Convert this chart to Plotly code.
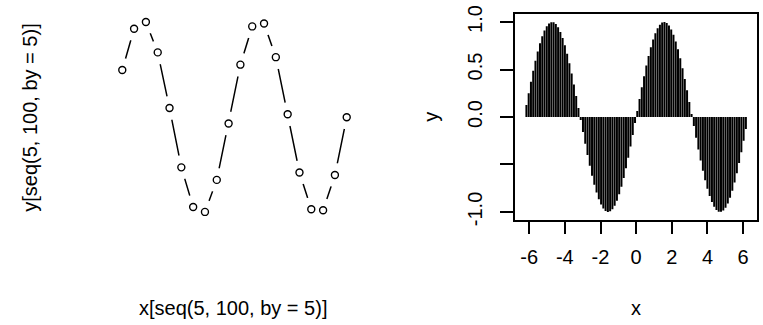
import plotly.graph_objects as go

# x = seq(-2*pi, 2*pi, length = 100), y = sin(x)  (values read / tabulated)
x = [-6.283, -6.156, -6.029, -5.902, -5.775, -5.649, -5.522, -5.395, -5.268, -5.141,
     -5.014, -4.887, -4.760, -4.633, -4.506, -4.379, -4.252, -4.125, -3.998, -3.871,
     -3.745, -3.618, -3.491, -3.364, -3.237, -3.110, -2.983, -2.856, -2.729, -2.602,
     -2.475, -2.348, -2.221, -2.094, -1.967, -1.841, -1.714, -1.587, -1.460, -1.333,
     -1.206, -1.079, -0.952, -0.825, -0.698, -0.571, -0.444, -0.317, -0.190, -0.063,
     0.063, 0.190, 0.317, 0.444, 0.571, 0.698, 0.825, 0.952, 1.079, 1.206,
     1.333, 1.460, 1.587, 1.714, 1.841, 1.967, 2.094, 2.221, 2.348, 2.475,
     2.602, 2.729, 2.856, 2.983, 3.110, 3.237, 3.364, 3.491, 3.618, 3.745,
     3.871, 3.998, 4.125, 4.252, 4.379, 4.506, 4.633, 4.760, 4.887, 5.014,
     5.141, 5.268, 5.395, 5.522, 5.649, 5.775, 5.902, 6.029, 6.156, 6.283]
y = [0.000, 0.127, 0.251, 0.372, 0.486, 0.593, 0.690, 0.776, 0.850, 0.910,
     0.955, 0.985, 0.999, 0.997, 0.979, 0.945, 0.896, 0.833, 0.756, 0.667,
     0.567, 0.458, 0.342, 0.220, 0.095, -0.032, -0.158, -0.282, -0.401, -0.514,
     -0.618, -0.713, -0.796, -0.866, -0.922, -0.964, -0.990, -1.000, -0.994, -0.972,
     -0.934, -0.882, -0.815, -0.735, -0.643, -0.541, -0.430, -0.312, -0.189, -0.063,
     0.063, 0.189, 0.312, 0.430, 0.541, 0.643, 0.735, 0.815, 0.882, 0.934,
     0.972, 0.994, 1.000, 0.990, 0.964, 0.922, 0.866, 0.796, 0.713, 0.618,
     0.514, 0.401, 0.282, 0.158, 0.032, -0.095, -0.220, -0.342, -0.458, -0.567,
     -0.667, -0.756, -0.833, -0.896, -0.945, -0.979, -0.997, -0.999, -0.985, -0.955,
     -0.910, -0.850, -0.776, -0.690, -0.593, -0.486, -0.372, -0.251, -0.127, 0.000]

sel = list(range(5, 101, 5))  # seq(5, 100, by = 5)

x_ticks = [-6, -4, -2, 0, 2, 4, 6]
x_ticktext = ["-6", "-4", "-2", "0", "2", "4", "6"]
y_ticks = [-1.0, -0.5, 0.0, 0.5, 1.0]
y_ticktext = ["-1.0", "", "0.0", "0.5", "1.0"]

left_xlabel = "x[seq(5, 100, by = 5)]"
left_ylabel = "y[seq(5, 100, by = 5)]"
right_xlabel = "x"
right_ylabel = "y"

xs = [x[i - 1] for i in sel]
ys = [y[i - 1] for i in sel]


def rrange(v):
    lo, hi = min(v), max(v)
    d = (hi - lo) * 0.04
    return [lo - d, hi + d]


FONT = "Liberation Sans, Arial, sans-serif"
FS = 20

fig = go.Figure()

# left panel: type = "b"
fig.add_trace(go.Scatter(x=xs, y=ys, mode="lines", line=dict(color="black", width=1.5),
                         xaxis="x", yaxis="y", hoverinfo="skip"))
fig.add_trace(go.Scatter(x=xs, y=ys, mode="markers",
                         marker=dict(symbol="circle", size=24, color="white", line=dict(width=0)),
                         xaxis="x", yaxis="y", hoverinfo="skip"))
fig.add_trace(go.Scatter(x=xs, y=ys, mode="markers",
                         marker=dict(symbol="circle-open", size=7, color="black", line=dict(width=1.4)),
                         xaxis="x", yaxis="y"))

# right panel: type = "h"
hx, hy = [], []
for xv, yv in zip(x, y):
    hx += [xv, xv, None]
    hy += [0, yv, None]
fig.add_trace(go.Scatter(x=hx, y=hy, mode="lines", line=dict(color="black", width=2.0),
                         xaxis="x2", yaxis="y2", hoverinfo="skip"))

W, H = 763, 325
ydom = [1 - 220.7 / H, 1 - 5.7 / H]

axis_common = dict(showgrid=False, zeroline=False, showline=True, linecolor="black",
                   linewidth=1.5, mirror=True, ticks="outside", ticklen=13, tickwidth=1.5,
                   tickcolor="black", ticklabeloverflow="allow",
                   tickfont=dict(family=FONT, size=FS, color="black"))

fig.update_layout(
    width=W, height=H,
    margin=dict(l=0, r=0, t=0, b=0),
    paper_bgcolor="white", plot_bgcolor="white",
    showlegend=False,
    xaxis=dict(domain=[113.3 / W, 355.7 / W], range=rrange(xs), visible=False, anchor="y"),
    yaxis=dict(domain=ydom, range=rrange(ys), visible=False, anchor="x"),
    xaxis2=dict(domain=[515.2 / W, 757.1 / W], range=rrange(x), anchor="y2",
                tickmode="array", tickvals=x_ticks, ticktext=x_ticktext,
                ticklabelstandoff=6, **axis_common),
    yaxis2=dict(domain=ydom, range=rrange(y), anchor="x2",
                tickmode="array", tickvals=y_ticks, ticktext=y_ticktext,
                tickangle=-90, ticklabelstandoff=10, **axis_common),
    annotations=[
        dict(text=left_xlabel, x=233 / W, y=1 - 313 / H, xref="paper", yref="paper",
             showarrow=False, xanchor="center", yanchor="middle",
             font=dict(family=FONT, size=FS, color="black")),
        dict(text=left_ylabel, x=30 / W, y=1 - 114 / H, xref="paper", yref="paper",
             showarrow=False, xanchor="center", yanchor="middle", textangle=-90,
             font=dict(family=FONT, size=FS, color="black")),
        dict(text=right_xlabel, x=636 / W, y=1 - 313 / H, xref="paper", yref="paper",
             showarrow=False, xanchor="center", yanchor="middle",
             font=dict(family=FONT, size=FS, color="black")),
        dict(text=right_ylabel, x=431 / W, y=1 - 113 / H, xref="paper", yref="paper",
             showarrow=False, xanchor="center", yanchor="middle", textangle=-90,
             font=dict(family=FONT, size=FS, color="black")),
    ],
)

fig.write_html("out.html", config={"displayModeBar": False},
               post_script="document.body.style.margin='0';document.body.style.overflow='hidden';")
